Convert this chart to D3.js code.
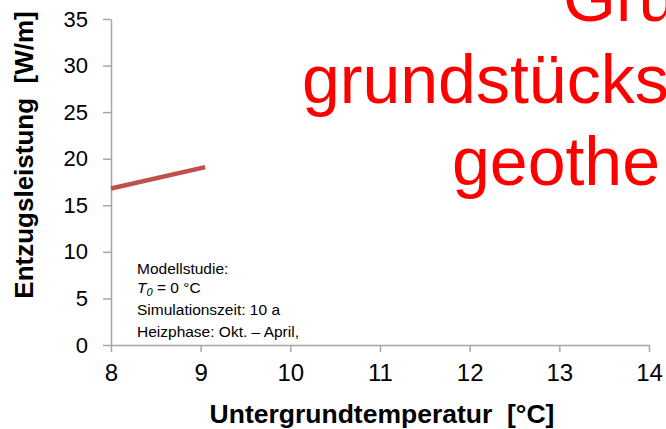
<!DOCTYPE html>
<html>
<head>
<meta charset="utf-8">
<script src="https://cdn.jsdelivr.net/npm/d3@7"></script>
<style>
  body { margin: 0; background: #fff; }
  svg { display: block; font-family: "Liberation Sans", Arial, sans-serif; }
  .axis path, .axis line { stroke: #a6a6a6; stroke-width: 1.5; }
  .axis text { fill: #000; }
</style>
</head>
<body>
<div id="chart"></div>
<script>
// data
var xTicks = [8, 9, 10, 11, 12, 13, 14];
var yTicks = [0, 5, 10, 15, 20, 25, 30, 35];
var temps = [8, 9.05];
var power = [16.8, 19.1];
var notes = ["Modellstudie:", "T0", "Simulationszeit: 10 a", "Heizphase: Okt. \u2013 April,"];
var overlay = ["Gru", "grundstücks", "geothe"];

var width = 666, height = 429;
var margin = {left: 111, right: 17, top: 19, bottom: 84};

var svg = d3.select("#chart").append("svg")
    .attr("width", width)
    .attr("height", height);

var x = d3.scaleLinear().domain([8, 14]).range([margin.left, width - margin.right]);
var y = d3.scaleLinear().domain([0, 35]).range([height - margin.bottom, margin.top]);

// x axis
var gx = svg.append("g")
    .attr("class", "axis")
    .attr("transform", "translate(0," + y(0) + ")")
    .call(d3.axisBottom(x).tickValues(xTicks).tickFormat(d3.format("d"))
      .tickSize(7).tickSizeOuter(0).tickPadding(12));
gx.selectAll("text").style("font-size", "24px");

// y axis
var gy = svg.append("g")
    .attr("class", "axis")
    .attr("transform", "translate(" + x(8) + ",0)")
    .call(d3.axisLeft(y).tickValues(yTicks).tickFormat(d3.format("d"))
      .tickSize(8).tickSizeOuter(0).tickPadding(15));
gy.selectAll("text").style("font-size", "22px");

// titles
svg.append("text")
    .attr("x", 382).attr("y", 423)
    .attr("text-anchor", "middle")
    .style("font-size", "26.5px").style("font-weight", "bold")
    .attr("xml:space", "preserve")
    .text("Untergrundtemperatur  [°C]");

svg.append("text")
    .attr("transform", "translate(33,155) rotate(-90)")
    .attr("text-anchor", "middle")
    .style("font-size", "26px").style("font-weight", "bold")
    .attr("xml:space", "preserve")
    .text("Entzugsleistung  [W/m]");

// the line
var pts = temps.map(function(t, i) { return [t, power[i]]; });
svg.append("path")
    .datum(pts)
    .attr("fill", "none")
    .attr("stroke", "#c0504d")
    .attr("stroke-width", 4.5)
    .attr("d", d3.line().x(function(d) { return x(d[0]); }).y(function(d) { return y(d[1]); }));

// annotation
var noteY = [274, 293, 315, 337];
var note = svg.append("g").style("font-size", "15.5px");
notes.forEach(function(s, i) {
  var t = note.append("text").attr("x", 137).attr("y", noteY[i]);
  if (s === "T0") {
    t.append("tspan").style("font-style", "italic").text("T");
    t.append("tspan").style("font-style", "italic").style("font-size", "11px").attr("dy", 3).text("0");
    t.append("tspan").attr("dy", -3).text(" = 0 °C");
  } else {
    t.text(s);
  }
});

// red slide text, cut off by the right edge
var ovX = [563, 302, 452], ovY = [21, 103, 185];
overlay.forEach(function(s, i) {
  svg.append("text")
    .attr("x", ovX[i]).attr("y", ovY[i])
    .style("font-size", "68px")
    .attr("fill", "#ff0000")
    .text(s);
});
</script>
</body>
</html>
